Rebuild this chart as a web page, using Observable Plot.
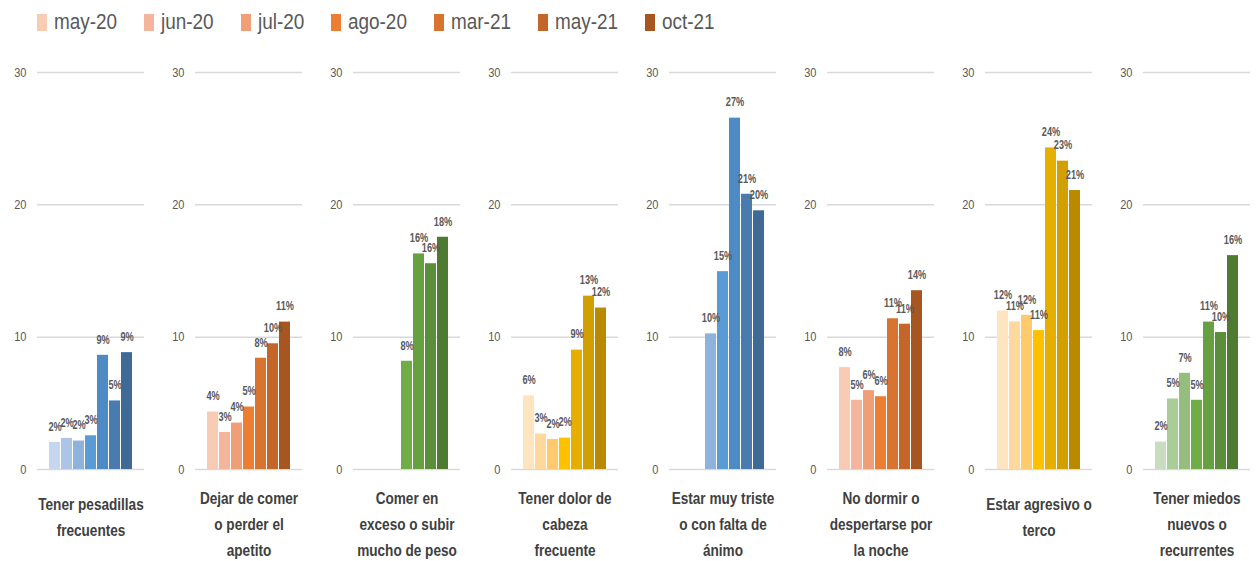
<!DOCTYPE html>
<html>
<head>
<meta charset="utf-8">
<script src="https://cdn.jsdelivr.net/npm/d3@7"></script>
<script src="https://cdn.jsdelivr.net/npm/@observablehq/plot@0.6"></script>
<style>
  body { margin: 0; background: #fff; }
  #legend { height: 44px; display: flex; align-items: center; padding-left: 37px;
    font-family: "Liberation Sans", Arial, sans-serif; font-size: 22px; color: #595959; }
  .item { display: flex; align-items: center; margin-right: 27px; }
  .sw { width: 10px; height: 17px; margin-right: 7px; flex: none; }
  .lbl { display: inline-block; white-space: nowrap; transform: scaleX(0.86); transform-origin: 0 50%; }
  .lblbox { overflow: visible; }
</style>
</head>
<body>
<div id="legend"></div>
<div id="chart"></div>
<script>
const months = ["may-20", "jun-20", "jul-20", "ago-20", "mar-21", "may-21", "oct-21"];
const categories = [
  "Tener pesadillas\nfrecuentes",
  "Dejar de comer\no perder el\napetito",
  "Comer en\nexceso o subir\nmucho de peso",
  "Tener dolor de\ncabeza\nfrecuente",
  "Estar muy triste\no con falta de\nánimo",
  "No dormir o\ndespertarse por\nla noche",
  "Estar agresivo o\nterco",
  "Tener miedos\nnuevos o\nrecurrentes"
];
const pesadillas = [2.05, 2.35, 2.15, 2.55, 8.63, 5.18, 8.83];
const dejarComer = [4.34, 2.80, 3.51, 4.72, 8.41, 9.5, 11.14];
const comerExceso = [null, null, null, 8.18, 16.29, 15.55, 17.55];
const dolorCabeza = [5.56, 2.68, 2.27, 2.37, 9.02, 13.1, 12.2];
const triste = [null, null, 10.25, 14.95, 26.55, 20.8, 19.55];
const noDormir = [7.70, 5.23, 5.96, 5.5, 11.39, 10.98, 13.51];
const agresivo = [11.98, 11.15, 11.65, 10.5, 24.3, 23.3, 21.08];
const miedos = [2.07, 5.33, 7.27, 5.23, 11.14, 10.35, 16.16];
const seriesValues = [pesadillas, dejarComer, comerExceso, dolorCabeza, triste, noDormir, agresivo, miedos];

const palettes = {
  blue:   ["#C5D6EE", "#ACC4E6", "#8FB2DC", "#5B9BD5", "#4E8BC4", "#4A7BAE", "#3F6A96"],
  orange: ["#F8CBB4", "#F4B59C", "#F09E78", "#ED7D31", "#D97430", "#C4652A", "#A75622"],
  green:  ["#C8DDC0", "#A9CC98", "#94BD7E", "#70AD47", "#67A040", "#5B8E3B", "#4E7A31"],
  gold:   ["#FFE4C0", "#FFD89B", "#FFCA6C", "#FFC000", "#E6AF00", "#D29F00", "#B98A00"]
};
const categoryPalette = ["blue", "orange", "green", "gold", "blue", "orange", "gold", "green"];
const yTicks = [0, 10, 20, 30];
const legendColors = palettes.orange;

const FONT = '"Liberation Sans", Arial, sans-serif';

// legend
const legend = document.getElementById("legend");
months.forEach((m, i) => {
  const it = document.createElement("div");
  it.className = "item";
  const sw = document.createElement("div");
  sw.className = "sw";
  sw.style.background = legendColors[i];
  const box = document.createElement("div");
  box.className = "lblbox";
  const tx = document.createElement("span");
  tx.className = "lbl";
  tx.textContent = m;
  box.appendChild(tx);
  it.appendChild(sw); it.appendChild(box);
  legend.appendChild(it);
  box.style.width = (tx.getBoundingClientRect().width) + "px";
});

// table
const rows = [];
categories.forEach((c, ci) => {
  seriesValues[ci].forEach((v, mi) => {
    if (v != null) rows.push({cat: c, month: months[mi], value: v, color: palettes[categoryPalette[ci]][mi]});
  });
});
const nLines = c => c.split("\n").length;

const chart = Plot.plot({
  width: 1256,
  height: 517,
  marginTop: 28,
  marginBottom: 92,
  marginLeft: 35,
  marginRight: 5,
  style: {fontFamily: FONT, background: "#fff"},
  fx: {domain: categories, paddingInner: 0.3245, paddingOuter: 0, axis: null},
  x: {domain: months, paddingInner: 0.12, paddingOuter: 0.86, axis: null},
  y: {domain: [0, 30], axis: null},
  color: {type: "identity"},
  marks: [
    Plot.ruleY(yTicks, {stroke: "#D9D9D9", strokeWidth: 1.5}),
    Plot.text(yTicks, {y: d => d, text: d => String(d), frameAnchor: "left", dx: -11, textAnchor: "end",
      fontSize: 13, fill: "#595959"}),
    Plot.barY(rows, {fx: "cat", x: "month", y: "value", fill: "color"}),
    Plot.text(rows, {fx: "cat", x: "month", y: "value", text: d => Math.round(d.value) + "%",
      lineAnchor: "middle", dy: -16, fontSize: 13.5, fontWeight: "bold", fill: "#595959"}),
    Plot.text(categories.filter(c => nLines(c) > 2), {fx: d => d, text: d => d, frameAnchor: "bottom", lineAnchor: "top", dy: 16,
      fontSize: 17, fontWeight: "bold", fill: "#404040", lineHeight: 1.53}),
    Plot.text(categories.filter(c => nLines(c) <= 2), {fx: d => d, text: d => d, frameAnchor: "bottom", lineAnchor: "top", dy: 22,
      fontSize: 17, fontWeight: "bold", fill: "#404040", lineHeight: 1.53})
  ]
});
document.getElementById("chart").appendChild(chart);

// horizontally condense text to match the narrow typeface of the original
function squeeze(selector, k) {
  d3.select(chart).selectAll(selector).each(function () {
    const t = this.getAttribute("transform") || "";
    this.setAttribute("transform", t + ` scale(${k},1)`);
  });
}
squeeze('g[font-size="13"] > text', 0.85);
squeeze('g[font-size="13.5"] > text', 0.68);
squeeze('g[font-size="17"] > text', 0.8);
</script>
</body>
</html>
